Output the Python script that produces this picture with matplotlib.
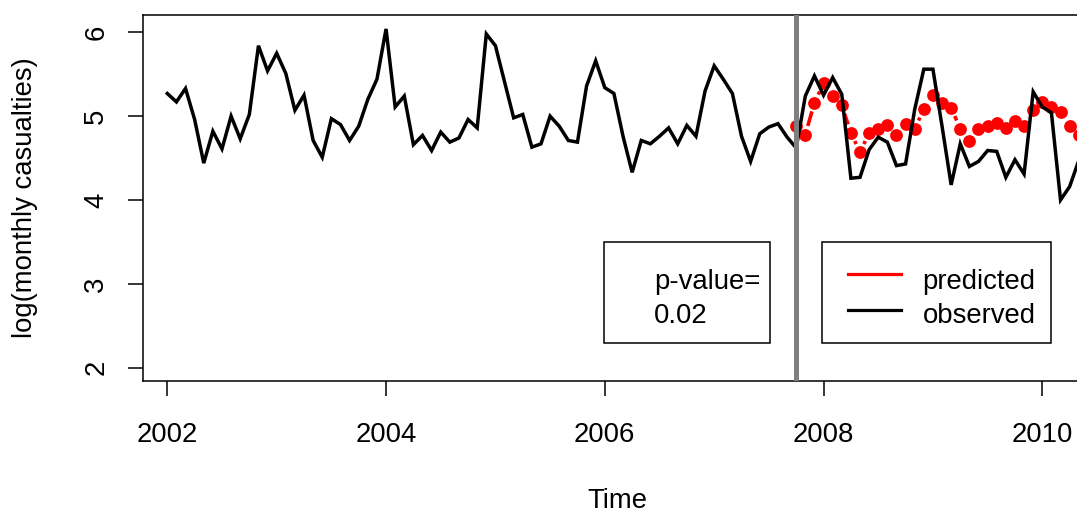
import numpy as np
import matplotlib
matplotlib.use("Agg")
import matplotlib.pyplot as plt
from matplotlib.transforms import Affine2D
from matplotlib.collections import LineCollection
from matplotlib.lines import Line2D
from matplotlib.patches import Rectangle

# ---------------- data ----------------
start_year = 2002.0
observed = [
    5.27, 5.17, 5.33, 4.96, 4.44, 4.82, 4.61, 5.00, 4.73, 5.02, 5.84, 5.54,
    5.75, 5.51, 5.07, 5.25, 4.71, 4.51, 4.97, 4.90, 4.71, 4.88, 5.20, 5.44,
    6.04, 5.11, 5.24, 4.66, 4.77, 4.59, 4.81, 4.69, 4.74, 4.96, 4.86, 5.98,
    5.84, 5.41, 4.98, 5.02, 4.63, 4.67, 5.00, 4.88, 4.71, 4.69, 5.36, 5.66,
    5.34, 5.27, 4.76, 4.33, 4.71, 4.67, 4.76, 4.86, 4.67, 4.89, 4.76, 5.30,
    5.60, 5.44, 5.27, 4.76, 4.46, 4.79, 4.87, 4.91, 4.75, 4.62, 5.24, 5.48,
    5.25, 5.46, 5.26, 4.26, 4.27, 4.60, 4.75, 4.69, 4.41, 4.43, 5.08, 5.56,
    5.56, 4.88, 4.18, 4.67, 4.40, 4.46, 4.59, 4.58, 4.27, 4.48, 4.31, 5.29,
    5.11, 5.04, 4.00, 4.16, 4.47,
]
pred_start_month = 69
predicted = [
    4.88, 4.78, 5.16, 5.39, 5.24, 5.13, 4.80, 4.57, 4.80, 4.85, 4.90, 4.77,
    4.91, 4.85, 5.08, 5.25, 5.16, 5.10, 4.85, 4.70, 4.85, 4.88, 4.92, 4.86,
    4.94, 4.88, 5.07, 5.17, 5.11, 5.05, 4.88, 4.78,
]
intervention = 2007.75
x_ticks = [2002, 2004, 2006, 2008, 2010]
y_ticks = [2, 3, 4, 5, 6]
legend_labels = ["predicted", "observed"]
pvalue_text = ["p-value=", "0.02"]

t_obs = start_year + np.arange(len(observed)) / 12.0
t_pred = start_year + (pred_start_month + np.arange(len(predicted))) / 12.0

# ---------------- figure ----------------
W, H = 1077, 512
plt.rcParams['font.family'] = ['Liberation Sans', 'DejaVu Sans']
FS = 19.8
fig = plt.figure(figsize=(W / 100, H / 100), dpi=100)
L, R, T, B = 143, 1091, 15, 381
ax = fig.add_axes([L / W, (H - B) / H, (R - L) / W, (B - T) / H])

px_per_year = 109.375
x0_px = 167.3
ax.set_xlim(2002 - (x0_px - L) / px_per_year, 2002 + (R - x0_px) / px_per_year)
y6_px, y2_px = 32.3, 367.7
ppu = (y2_px - y6_px) / 4
ax.set_ylim(2 - (B - y2_px) / ppu, 6 + (y6_px - T) / ppu)

for s in ax.spines.values():
    s.set_linewidth(1.1)

ax.set_xticks(x_ticks)
ax.set_xticklabels([str(v) for v in x_ticks])
ax.set_yticks(y_ticks)
ax.set_yticklabels([str(v) for v in y_ticks])
ax.tick_params(axis='both', direction='out', length=10.8, width=1.1, labelsize=FS)
ax.tick_params(axis='x', pad=18.5)
ax.tick_params(axis='y', pad=13.5)
for lab in ax.get_yticklabels():
    lab.set_rotation(90)
    lab.set_va('center')

ax.set_xlabel('Time', fontsize=FS)
ax.xaxis.set_label_coords(0.5, (B - 507.5) / (B - T))
ax.xaxis.label.set_va('baseline')
ax.set_ylabel('log(monthly casualties)', fontsize=FS)
ax.yaxis.set_label_coords((38 - L) / (R - L), 0.5)

# predicted: R type="b" (points with gapped connecting segments)
fig.canvas.draw()
pts = ax.transData.transform(np.column_stack([t_pred, predicted]))
gap = 9.0
segs = []
inv = ax.transData.inverted()
for p0, p1 in zip(pts[:-1], pts[1:]):
    d = p1 - p0
    ln = np.hypot(*d)
    if ln > 2 * gap:
        a = p0 + d / ln * gap
        b = p1 - d / ln * gap
        segs.append(inv.transform(np.array([a, b])))
ax.add_collection(LineCollection(segs, colors='red', linewidths=2.6, zorder=2,
                                 capstyle='butt'))
ax.plot(t_pred, predicted, linestyle='none', marker='o', markersize=9.2,
        color='red', markeredgewidth=0, zorder=2)

ax.plot(t_obs, observed, color='black', lw=2.5, zorder=3, solid_joinstyle='miter')
ax.axvline(intervention, color='#7F7F7F', lw=3.6, zorder=4)

# legend boxes in pixel coordinates
pix = Affine2D().scale(1 / W, -1 / H).translate(0, 1) + fig.transFigure
fig.add_artist(Rectangle((604.3, 242.3), 166.0, 100.4, transform=pix,
                         facecolor='white', edgecolor='black', lw=1.1, zorder=5))
fig.add_artist(Rectangle((822.3, 242.3), 228.7, 100.4, transform=pix,
                         facecolor='white', edgecolor='black', lw=1.1, zorder=5))
fig.add_artist(Line2D([847.7, 900.7], [274.3, 274.3], transform=pix,
                      color='red', lw=2.3, zorder=6))
fig.add_artist(Line2D([847.7, 900.7], [310.0, 310.0], transform=pix,
                      color='black', lw=2.3, zorder=6))
fig.text(922.5, 289.3, legend_labels[0], transform=pix, fontsize=FS,
         ha='left', va='baseline', zorder=6)
fig.text(922.5, 322.7, legend_labels[1], transform=pix, fontsize=FS,
         ha='left', va='baseline', zorder=6)
fig.text(654.0, 289.3, pvalue_text[0], transform=pix, fontsize=FS,
         ha='left', va='baseline', zorder=6)
fig.text(654.0, 322.7, pvalue_text[1], transform=pix, fontsize=FS,
         ha='left', va='baseline', zorder=6)

fig.savefig('out.png', dpi=100, facecolor='white')
